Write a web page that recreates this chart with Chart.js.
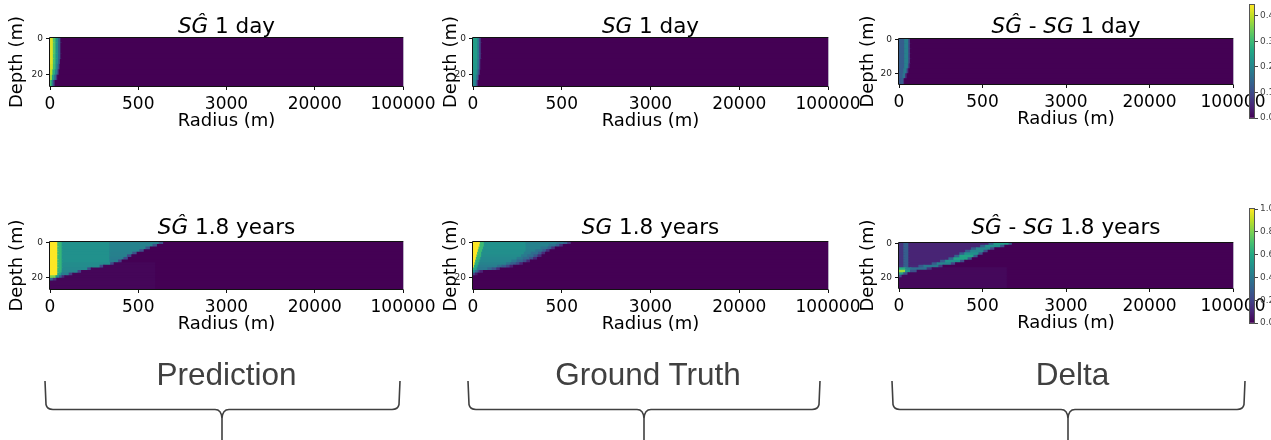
<!DOCTYPE html>
<html>
<head>
<meta charset="utf-8">
<script src="https://cdn.jsdelivr.net/npm/chart.js@4.4.1/dist/chart.umd.min.js"></script>
<style>
  html, body { margin:0; padding:0; background:#fff; overflow:hidden; }
  #page { position:relative; width:1271px; height:440px; overflow:hidden; }
  canvas { position:absolute; }
  .title { position:absolute; font-family:'DejaVu Sans'; font-size:21.5px; line-height:21.5px; color:#000; white-space:nowrap; transform:translateX(-50%); }
  .title i { font-style:italic; }
  svg { position:absolute; left:0; top:0; }
</style>
</head>
<body>
<div id="page"></div>
<script>
// ---------------- DATA ----------------
// x axis: radial cell index 0..400, tick labels are radius values
const xTickPos = [0, 100, 200, 300, 400];
const xTickLabels = ['0', '500', '3000', '20000', '100000'];
const depthTicks = [0, 20];
// depth row centres (coarse: 3 m rows, fine: 1.5 m rows), depth spans -0.5..26.5
const rowsCoarse = [1, 4, 7, 10, 13, 16, 19, 22, 25];
const rowsFine = [0.25, 1.75, 3.25, 4.75, 6.25, 7.75, 9.25, 10.75, 12.25, 13.75, 15.25, 16.75, 18.25, 19.75, 21.25, 22.75, 24.25, 25.75];
// each row: list of [cell index where segment ends, value]; remaining cells = 0
const predDay = [
  [[4,0.95],[7,0.72],[10,0.5],[12.5,0.3]],
  [[4,0.95],[7,0.72],[10,0.5],[12.5,0.3]],
  [[4,0.95],[7,0.72],[10,0.5],[12.5,0.3]],
  [[4,0.95],[7,0.7],[10,0.5],[12.5,0.3]],
  [[4,0.95],[7,0.7],[10,0.48],[12,0.28]],
  [[4,0.93],[7,0.68],[9.5,0.46],[11.5,0.26]],
  [[3.5,0.9],[6.5,0.62],[9,0.42],[10.5,0.22]],
  [[3,0.85],[5.5,0.55],[7.5,0.35],[9,0.15]],
  [[2.5,0.7],[4,0.45],[6,0.22]]
];
const truthDay = [
  [[5.5,0.55],[7.5,0.42],[9.5,0.2]],
  [[5.5,0.55],[7.5,0.42],[9.5,0.2]],
  [[5.5,0.55],[7.5,0.42],[9.5,0.2]],
  [[5.5,0.55],[7.5,0.42],[9.5,0.2]],
  [[5.5,0.54],[7.5,0.4],[9,0.2]],
  [[5.5,0.53],[7.5,0.4],[9,0.18]],
  [[5,0.52],[7,0.38],[8.5,0.18]],
  [[4.5,0.5],[6.5,0.33],[7.5,0.14]],
  [[4,0.46],[5.5,0.28],[6.5,0.1]]
];
const deltaDay = [
  [[7,0.13],[12,0.19],[14,0.08]],
  [[7,0.13],[12,0.19],[14,0.08]],
  [[7,0.13],[12,0.19],[14,0.08]],
  [[7,0.13],[12,0.19],[14,0.08]],
  [[7,0.13],[12,0.19],[14,0.08]],
  [[7,0.13],[11.5,0.19],[13.5,0.08]],
  [[6,0.13],[10,0.18],[12,0.07]],
  [[5,0.13],[8,0.17],[10,0.06]],
  [[3,0.12],[6,0.13],[7,0.05]]
];
const predYears = [
  [[9,1],[14,0.66],[68,0.5],[124,0.44],[129,0.25]],
  [[9,1],[14,0.66],[68,0.5],[117,0.44],[122,0.25]],
  [[9,1],[14,0.66],[68,0.5],[109,0.44],[114,0.25]],
  [[9,1],[14,0.66],[68,0.5],[102,0.44],[107,0.25]],
  [[9,1],[14,0.66],[68,0.5],[94,0.43],[99,0.25]],
  [[9,1],[14,0.66],[68,0.5],[88,0.43],[93,0.22]],
  [[9,1],[14,0.66],[68,0.5],[84,0.42],[89,0.22]],
  [[9,1],[14,0.66],[68,0.5],[78,0.42],[82,0.2]],
  [[9,1],[14,0.66],[69,0.48],[73,0.22],[120,0.015]],
  [[9,1],[14,0.66],[57,0.48],[61,0.22],[120,0.015]],
  [[9,1],[14,0.66],[43,0.47],[47,0.22],[120,0.015]],
  [[9,1],[14,0.64],[32,0.45],[36,0.2],[120,0.015]],
  [[9,1],[13,0.6],[22,0.42],[26,0.18],[120,0.015]],
  [[7,0.8],[11,0.5],[14,0.3],[17,0.12],[120,0.015]],
  [[4,0.35],[8,0.15],[120,0.015]],
  [[120,0.015]],
  [[120,0.015]],
  [[120,0.015]]
];
const truthYears = [
  [[8.5,1],[13,0.68],[60,0.5],[95,0.44],[103,0.38],[107,0.3],[111,0.14]],
  [[8,1],[13,0.68],[60,0.5],[86,0.44],[94,0.38],[98,0.3],[102,0.14]],
  [[7,1],[12,0.68],[60,0.5],[77,0.44],[85,0.38],[89,0.3],[93,0.14]],
  [[6.2,1],[11,0.68],[60,0.49],[71,0.43],[79,0.37],[83,0.28],[87,0.13]],
  [[5.4,1],[10,0.68],[58,0.49],[66,0.42],[74,0.36],[78,0.27],[82,0.12]],
  [[4.7,1],[10,0.66],[55,0.48],[62,0.41],[69,0.35],[73.5,0.26],[78,0.12]],
  [[4,1],[9,0.65],[50,0.47],[57,0.4],[64,0.34],[68.5,0.25],[73,0.11]],
  [[3.2,1],[8,0.63],[44,0.46],[50,0.39],[57,0.32],[61,0.24],[65,0.1]],
  [[2.5,1],[7,0.62],[38,0.44],[43,0.37],[49,0.3],[53,0.22],[57,0.1]],
  [[1.7,1],[6,0.6],[28,0.42],[33,0.35],[38,0.28],[42,0.2],[46,0.09]],
  [[0.9,1],[5,0.58],[17,0.4],[22,0.32],[27,0.24],[31,0.12]],
  [[3,0.5],[6,0.35],[8,0.22],[12,0.1]],
  [[3,0.2],[6,0.08]],
  [[400,0]],
  [[400,0]],
  [[400,0]],
  [[400,0]],
  [[400,0]]
];
const deltaYears = [
  [[6,0.15],[12,0.3],[108,0.1],[114,0.3],[132,0.55],[136,0.3]],
  [[6,0.15],[12,0.3],[98,0.1],[104,0.3],[122,0.5],[127,0.25]],
  [[6,0.15],[12,0.3],[87,0.1],[93,0.28],[110,0.45],[115,0.22]],
  [[6,0.15],[12,0.3],[80,0.1],[86,0.28],[102,0.45],[107,0.22]],
  [[6,0.15],[12,0.3],[73,0.1],[79,0.3],[96,0.5],[101,0.25]],
  [[6,0.15],[12,0.3],[67,0.1],[73,0.32],[90,0.58],[95,0.28]],
  [[6,0.15],[12,0.3],[60,0.1],[66,0.32],[83,0.58],[88,0.28]],
  [[6,0.15],[12,0.3],[50,0.1],[56,0.3],[74,0.5],[79,0.24]],
  [[6,0.15],[12,0.3],[40,0.1],[46,0.28],[63,0.44],[68,0.2]],
  [[6,0.16],[12,0.3],[24,0.11],[30,0.28],[48,0.4],[53,0.18]],
  [[8,0.62],[14,0.45],[34,0.36],[40,0.15],[130,0.02]],
  [[8,0.85],[14,0.5],[22,0.25],[130,0.02]],
  [[6,0.55],[11,0.25],[130,0.02]],
  [[4,0.22],[130,0.02]],
  [[130,0.02]],
  [[130,0.02]],
  [[130,0.02]],
  [[130,0.02]]
];
const cbDayMax = 0.443;
const cbDayTicks = [0.0, 0.1, 0.2, 0.3, 0.4];
const cbYearsMax = 1.0;
const cbYearsTicks = [0.0, 0.2, 0.4, 0.6, 0.8, 1.0];

// ---------------- STYLE / LAYOUT ----------------
Chart.defaults.font.family = 'DejaVu Sans';
Chart.defaults.animation = false;
const VIR = [[68,1,84],[72,36,117],[65,68,135],[53,95,141],[42,120,142],[33,145,140],[34,168,132],[68,191,112],[122,209,81],[189,223,38],[253,231,37]];
function viridis(t) {
  t = Math.max(0, Math.min(1, t));
  const f = t * 10, i = Math.min(9, Math.floor(f)), u = f - i;
  const a = VIR[i], b = VIR[i + 1];
  return 'rgb(' + [0,1,2].map(k => Math.round(a[k] + (b[k] - a[k]) * u)).join(',') + ')';
}
const page = document.getElementById('page');
const PL = 50, PR = 40, PT = 32, PB = 50;

const framePlugin = {
  id: 'frame',
  afterDatasetsDraw(chart) {
    const a = chart.chartArea, c = chart.ctx;
    c.save();
    c.lineWidth = 1;
    c.strokeStyle = '#111';
    c.beginPath();
    c.moveTo(a.right + 0.5, a.top - 0.5);
    c.lineTo(a.left - 0.5, a.top - 0.5);
    c.lineTo(a.left - 0.5, a.bottom + 0.5);
    c.lineTo(a.right + 0.5, a.bottom + 0.5);
    c.stroke();
    c.strokeStyle = '#b8b0c4';
    c.beginPath();
    c.moveTo(a.right + 0.5, a.top - 0.5);
    c.lineTo(a.right + 0.5, a.bottom + 0.5);
    c.stroke();
    c.restore();
  }
};

function buildPoints(rows, centers) {
  const pts = [];
  rows.forEach((row, r) => {
    let start = 0;
    row.forEach(([end, v]) => { pts.push({ y: centers[r], x: [start, end], v }); start = end; });
    if (start < 400) pts.push({ y: centers[r], x: [start, 400], v: 0 });
  });
  return pts;
}

function heatmap(p) {
  const cv = document.createElement('canvas');
  const w = p.W + PL + PR, h = p.H + PT + PB;
  cv.width = w; cv.height = h;
  cv.style.left = (p.L - PL) + 'px'; cv.style.top = (p.T - PT) + 'px';
  cv.style.width = w + 'px'; cv.style.height = h + 'px';
  page.appendChild(cv);
  new Chart(cv, {
    type: 'bar',
    data: { datasets: [{
      data: buildPoints(p.rows, p.centers),
      backgroundColor: ctx => viridis((ctx.raw ? ctx.raw.v : 0) / p.vmax),
      borderWidth: 0, barPercentage: 1, categoryPercentage: 1, inflateAmount: 0.7
    }] },
    options: {
      indexAxis: 'y', responsive: false, devicePixelRatio: 1,
      layout: { padding: { top: PT, right: PR, left: 0, bottom: 0 } },
      plugins: { legend: { display: false }, tooltip: { enabled: false } },
      scales: {
        y: {
          type: 'linear', min: -0.5, max: 26.5, reverse: true, offset: false,
          afterBuildTicks: s => { s.ticks = depthTicks.map(v => ({ value: v })); },
          afterFit: s => { s.width = PL; s.paddingTop = 0; s.paddingBottom = 0; },
          ticks: { font: { size: 9 }, color: '#222', padding: 3, autoSkip: false },
          grid: { offset: false, drawOnChartArea: false, drawTicks: true, tickLength: 4, color: '#111' },
          border: { display: false },
          title: { display: true, text: 'Depth (m)', color: '#000', font: { size: 18 }, padding: { top: p.yTitlePad, bottom: 0 } }
        },
        x: {
          type: 'linear', min: 0, max: 400, offset: false,
          afterBuildTicks: s => { s.ticks = xTickPos.map(v => ({ value: v })); },
          afterFit: s => { s.height = PB; s.paddingLeft = 0; s.paddingRight = 0; },
          ticks: { callback: v => xTickLabels[xTickPos.indexOf(v)], font: { size: 17 }, color: '#000', padding: 4, maxRotation: 0, autoSkip: false },
          grid: { offset: false, drawOnChartArea: false, drawTicks: true, tickLength: 4, color: '#111' },
          border: { display: false },
          title: { display: true, text: 'Radius (m)', color: '#000', font: { size: 18 }, padding: { top: 0, bottom: 4 } }
        }
      }
    },
    plugins: [framePlugin]
  });
}

function colorbar(c) {
  const cv = document.createElement('canvas');
  const w = c.W + 30, h = c.H + 12;
  cv.width = w; cv.height = h;
  cv.style.left = c.L + 'px'; cv.style.top = (c.T - 6) + 'px';
  cv.style.width = w + 'px'; cv.style.height = h + 'px';
  page.appendChild(cv);
  new Chart(cv, {
    type: 'bar',
    data: { labels: [''], datasets: [{
      data: [[0, c.max]],
      backgroundColor: ctx => {
        const a = ctx.chart.chartArea;
        if (!a) return viridis(0);
        const g = ctx.chart.ctx.createLinearGradient(0, a.bottom, 0, a.top);
        VIR.forEach((col, i) => g.addColorStop(i / (VIR.length - 1), 'rgb(' + col.join(',') + ')'));
        return g;
      },
      borderWidth: 0, barPercentage: 1, categoryPercentage: 1
    }] },
    options: {
      responsive: false, devicePixelRatio: 1,
      layout: { padding: { top: 6, bottom: 6, left: 0, right: 0 } },
      plugins: { legend: { display: false }, tooltip: { enabled: false } },
      scales: {
        x: { display: false },
        y: {
          position: 'right', min: 0, max: c.max,
          afterBuildTicks: s => { s.ticks = c.ticks.map(v => ({ value: v })); },
          afterFit: s => { s.width = 30; s.paddingTop = 0; s.paddingBottom = 0; },
          ticks: { callback: v => v.toFixed(1), font: { size: 9 }, color: '#444', padding: 2, autoSkip: false },
          grid: { drawOnChartArea: false, drawTicks: true, tickLength: 3, color: '#444' },
          border: { display: false }
        }
      }
    },
    plugins: [{
      id: 'cbframe',
      afterDatasetsDraw(chart) {
        const a = chart.chartArea, x = chart.ctx;
        x.save(); x.strokeStyle = '#555'; x.lineWidth = 1;
        x.strokeRect(a.left + 0.5, a.top - 0.5, a.width - 1, a.height + 1);
        x.restore();
      }
    }]
  });
}

const panels = [
  { rows: predDay,    centers: rowsCoarse, vmax: 1,        L: 50,  T: 38,  W: 353, H: 48, yTitlePad: 6.2 },
  { rows: truthDay,   centers: rowsCoarse, vmax: 1,        L: 473, T: 38,  W: 355, H: 48, yTitlePad: 17.2 },
  { rows: deltaDay,   centers: rowsCoarse, vmax: cbDayMax, L: 899, T: 39,  W: 334, H: 45, yTitlePad: 8.7 },
  { rows: predYears,  centers: rowsFine,   vmax: 1,        L: 50,  T: 242, W: 353, H: 47, yTitlePad: 6.2 },
  { rows: truthYears, centers: rowsFine,   vmax: 1,        L: 473, T: 242, W: 355, H: 47, yTitlePad: 17.2 },
  { rows: deltaYears, centers: rowsFine,   vmax: cbYearsMax, L: 899, T: 243, W: 334, H: 45, yTitlePad: 8.7 }
];
panels.forEach(heatmap);
colorbar({ L: 1249, T: 5,   W: 6, H: 113, max: cbDayMax,   ticks: cbDayTicks });
colorbar({ L: 1249, T: 209, W: 6, H: 114, max: cbYearsMax, ticks: cbYearsTicks });

// titles
const titles = [
  { x: 226.5,  base: 33.5,  html: '<i>SG&#770;</i> 1 day' },
  { x: 650.5,  base: 33.5,  html: '<i>SG</i> 1 day' },
  { x: 1066,   base: 33.5,  html: '<i>SG&#770;</i> - <i>SG</i> 1 day' },
  { x: 226.5,  base: 234,   html: '<i>SG&#770;</i> 1.8 years' },
  { x: 650.5,  base: 234,   html: '<i>SG</i> 1.8 years' },
  { x: 1066,   base: 234,   html: '<i>SG&#770;</i> - <i>SG</i> 1.8 years' }
];
titles.forEach(t => {
  const d = document.createElement('div');
  d.className = 'title';
  d.innerHTML = t.html;
  d.style.left = t.x + 'px';
  d.style.top = (t.base - 18.2) + 'px';
  page.appendChild(d);
});

// group labels and braces
const groups = [
  { label: 'Prediction',   x0: 45,  x1: 400,  xm: 222 },
  { label: 'Ground Truth', x0: 468, x1: 820,  xm: 644 },
  { label: 'Delta',        x0: 892, x1: 1245, xm: 1068 }
];
const NS = 'http://www.w3.org/2000/svg';
const svg = document.createElementNS(NS, 'svg');
svg.setAttribute('width', 1271); svg.setAttribute('height', 440);
groups.forEach(g => {
  const yTop = 381, yH = 409.5, yBot = 440;
  const d = `M${g.x0},${yTop} L${g.x0 + 1},${yH - 5} Q${g.x0 + 2},${yH} ${g.x0 + 8},${yH} L${g.xm - 7},${yH} Q${g.xm - 0.5},${yH} ${g.xm},${yH + 9} L${g.xm},${yBot} ` +
            `M${g.x1},${yTop} L${g.x1 - 1},${yH - 5} Q${g.x1 - 2},${yH} ${g.x1 - 8},${yH} L${g.xm + 7},${yH} Q${g.xm + 0.5},${yH} ${g.xm},${yH + 9}`;
  const path = document.createElementNS(NS, 'path');
  path.setAttribute('d', d); path.setAttribute('fill', 'none');
  path.setAttribute('stroke', '#404040'); path.setAttribute('stroke-width', '1.6');
  svg.appendChild(path);
  const tx = document.createElementNS(NS, 'text');
  tx.setAttribute('x', (g.x0 + g.x1) / 2 + 4); tx.setAttribute('y', 385);
  tx.setAttribute('text-anchor', 'middle');
  tx.setAttribute('font-family', 'Liberation Sans, Arial, sans-serif');
  tx.setAttribute('font-size', '31.5'); tx.setAttribute('fill', '#404040');
  tx.textContent = g.label;
  svg.appendChild(tx);
});
page.appendChild(svg);
</script>
</body>
</html>
